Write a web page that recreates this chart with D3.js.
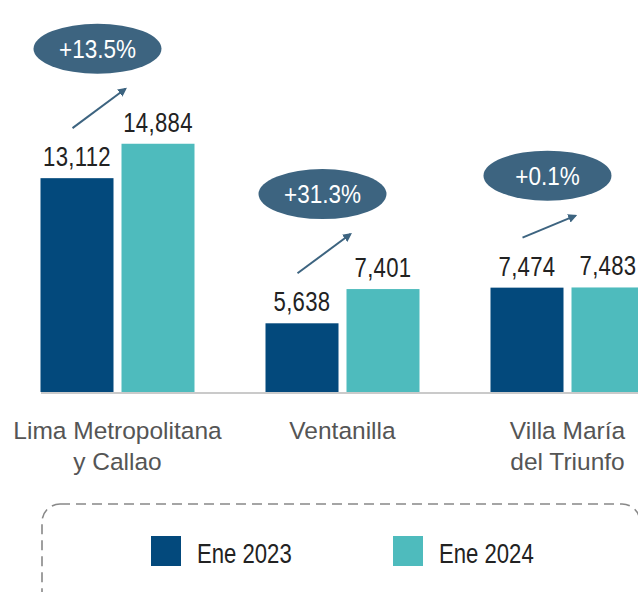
<!DOCTYPE html>
<html>
<head>
<meta charset="utf-8">
<script src="https://cdn.jsdelivr.net/npm/d3@7"></script>
<style>
  html, body { margin: 0; padding: 0; background: #fff; }
  svg { display: block; }
</style>
</head>
<body>
<svg class="svg-canvas" width="638" height="592"></svg>
<script>
// data
const categories = ["Lima Metropolitana\ny Callao", "Ventanilla", "Villa María\ndel Triunfo"];
const seriesNames = ["Ene 2023", "Ene 2024"];
const ene2023 = [13112, 5638, 7474];
const ene2024 = [14884, 7401, 7483];
const changes = ["+13.5%", "+31.3%", "+0.1%"];

const colors = ["#03497c", "#4ebbbd"];
const arrowColor = "#3d6480";
const narrow = 0.82; // squeeze Liberation Sans to a narrow look

const svg = d3.select(".svg-canvas");
const baseY = 392;

const rows = categories.map((c, i) => ({ cat: c, vals: [ene2023[i], ene2024[i]], change: changes[i] }));

// group scale + inner scale for the two years
const x0 = d3.scaleBand().domain(categories).range([5, 680]).paddingInner(0);
const x1 = d3.scaleBand().domain(seriesNames).range([0, 154]).paddingInner(8 / 81);
const groupPad = (x0.bandwidth() - 154) / 2;

const y = d3.scaleLinear().domain([2100, 15000]).range([baseY, 141.5]);

// arrow marker
svg.append("defs").append("marker")
  .attr("id", "head")
  .attr("viewBox", "0 0 10 10")
  .attr("refX", 8).attr("refY", 5)
  .attr("markerWidth", 4.5).attr("markerHeight", 4.5)
  .attr("orient", "auto")
  .append("path")
  .attr("d", "M0,0 L10,5 L0,10 Z")
  .attr("fill", arrowColor);

// baseline
svg.append("line")
  .attr("x1", 41).attr("x2", 638)
  .attr("y1", baseY + 1).attr("y2", baseY + 1)
  .attr("stroke", "#b8b8b8").attr("stroke-width", 1.6);

const groups = svg.selectAll("g.grp")
  .data(rows)
  .enter().append("g")
  .attr("class", "grp")
  .attr("transform", d => `translate(${x0(d.cat) + groupPad},0)`);

// bars
groups.selectAll("rect")
  .data(d => d.vals.map((v, j) => ({ v, s: seriesNames[j], j })))
  .enter().append("rect")
  .attr("x", d => x1(d.s))
  .attr("y", d => y(d.v))
  .attr("width", x1.bandwidth())
  .attr("height", d => baseY - y(d.v))
  .attr("fill", d => colors[d.j]);

// value labels
groups.selectAll("text.val")
  .data(d => d.vals.map((v, j) => ({ v, s: seriesNames[j] })))
  .enter().append("text")
  .attr("class", "val")
  .attr("transform", d => `translate(${x1(d.s) + x1.bandwidth() / 2},${y(d.v) - 12}) scale(${narrow},1)`)
  .attr("text-anchor", "middle")
  .attr("font-family", "'Liberation Sans', Arial, sans-serif")
  .attr("font-size", 27)
  .attr("letter-spacing", 0.4)
  .attr("fill", "#222")
  .text(d => d3.format(",")(d.v));

// growth arrows + bubbles
groups.each(function (d) {
  const g = d3.select(this);
  const sx = x1(seriesNames[0]) + 32;
  const sy = y(d.vals[0]) - 50;
  const ex = x1(seriesNames[1]) + 4;
  const ey = Math.min(y(d.vals[1]) - 55, sy - 22);

  g.append("line")
    .attr("x1", sx).attr("y1", sy)
    .attr("x2", ex).attr("y2", ey)
    .attr("stroke", arrowColor)
    .attr("stroke-width", 2)
    .attr("marker-end", "url(#head)");

  const cx = x0.bandwidth() / 2 - groupPad - 20;
  const cy = ey - 40;
  g.append("ellipse")
    .attr("cx", cx).attr("cy", cy)
    .attr("rx", 64).attr("ry", 25)
    .attr("fill", arrowColor);
  g.append("text")
    .attr("transform", `translate(${cx},${cy + 9}) scale(0.9,1)`)
    .attr("text-anchor", "middle")
    .attr("font-family", "'Liberation Sans', Arial, sans-serif")
    .attr("font-size", 25)
    .attr("fill", "#fff")
    .text(d.change);
});

// category labels
svg.selectAll("text.cat")
  .data(categories)
  .enter().append("text")
  .attr("class", "cat")
  .attr("x", d => x0(d) + x0.bandwidth() / 2)
  .attr("y", 439)
  .attr("text-anchor", "middle")
  .attr("font-family", "'Liberation Sans', Arial, sans-serif")
  .attr("font-size", 24.5)
  .attr("fill", "#555")
  .each(function (d) {
    const t = d3.select(this);
    d.split("\n").forEach((line, k) => {
      t.append("tspan")
        .attr("x", x0(d) + x0.bandwidth() / 2)
        .attr("dy", k === 0 ? 0 : 31)
        .text(line);
    });
  });

// legend box
svg.append("rect")
  .attr("x", 42).attr("y", 504)
  .attr("width", 598).attr("height", 110)
  .attr("rx", 18)
  .attr("fill", "none")
  .attr("stroke", "#888")
  .attr("stroke-width", 1.6)
  .attr("stroke-dasharray", "10,6");

const legendX = d3.scaleOrdinal().domain(seriesNames).range([151, 393]);
const leg = svg.selectAll("g.leg")
  .data(seriesNames)
  .enter().append("g")
  .attr("class", "leg")
  .attr("transform", d => `translate(${legendX(d)},536)`);
leg.append("rect")
  .attr("width", 30).attr("height", 30)
  .attr("fill", (d, i) => colors[i]);
leg.append("text")
  .attr("transform", `translate(46,27) scale(${narrow},1)`)
  .attr("font-family", "'Liberation Sans', Arial, sans-serif")
  .attr("font-size", 27)
  .attr("fill", "#222")
  .text(d => d);
</script>
</body>
</html>
